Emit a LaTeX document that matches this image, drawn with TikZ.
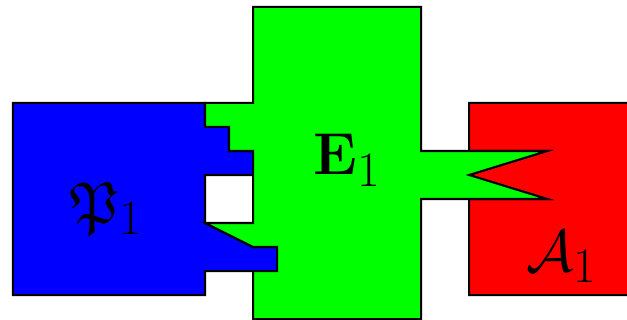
\documentclass[tikz,border=0pt]{standalone}
\usepackage{amsmath, amssymb}
\usetikzlibrary{calc}

\begin{document}
\begin{tikzpicture}[
            x=0.5cm,
            y=0.5cm,
            piece/.style={draw=black, line width=1.2pt, line join=miter},
            lbl/.style={anchor=base, inner sep=0pt, font=\Huge, scale=1.41, transform shape}
        ]

            % --- Frame ---
            \clip (-0.54,-0.04) rectangle (25.58,13.29);

            % --- Definitions ---
            \def\tip{22.25}

            % --- 1. Blue piece ---
            \draw[piece, fill=blue] (0,1) -- (0,9) -- (8,9) -- (8,8) -- (9,8) -- (9,7)
                -- (10,7) -- (10,6) -- (8,6) -- (8,4) -- (10,3) -- (11,3) -- (11,2)
                -- (8,2) -- (8,1) -- cycle;

            % --- 2. Red piece ---
            \draw[piece, fill=red] (19,1) -- (19,5) -- (\tip,5) -- (19,6) -- (\tip,7)
                -- (19,7) -- (19,9) -- (27,9) -- (27,1) -- cycle;

            % --- 3. Green piece ---
            \draw[piece, fill=green] (10,0) -- (10,2) -- (11,2) -- (11,3) -- (10,3)
                -- (8,4) -- (10,4) -- (10,7) -- (9,7) -- (9,8) -- (8,8) -- (8,9)
                -- (10,9) -- (10,13) -- (17,13) -- (17,7) -- (\tip,7) -- (19,6)
                -- (\tip,5) -- (17,5) -- (17,0) -- cycle;

            % --- 4. Labels ---
            \node[lbl] (P1) at (3.92,4) {$\mathfrak{P}_1$};
            \node[lbl] (E1) at (13.94,6) {$\mathbf{E}_1$};
            \node[lbl] (A1) at (22.88,2) {$\mathcal{A}_1$};

        \end{tikzpicture}
\end{document}
